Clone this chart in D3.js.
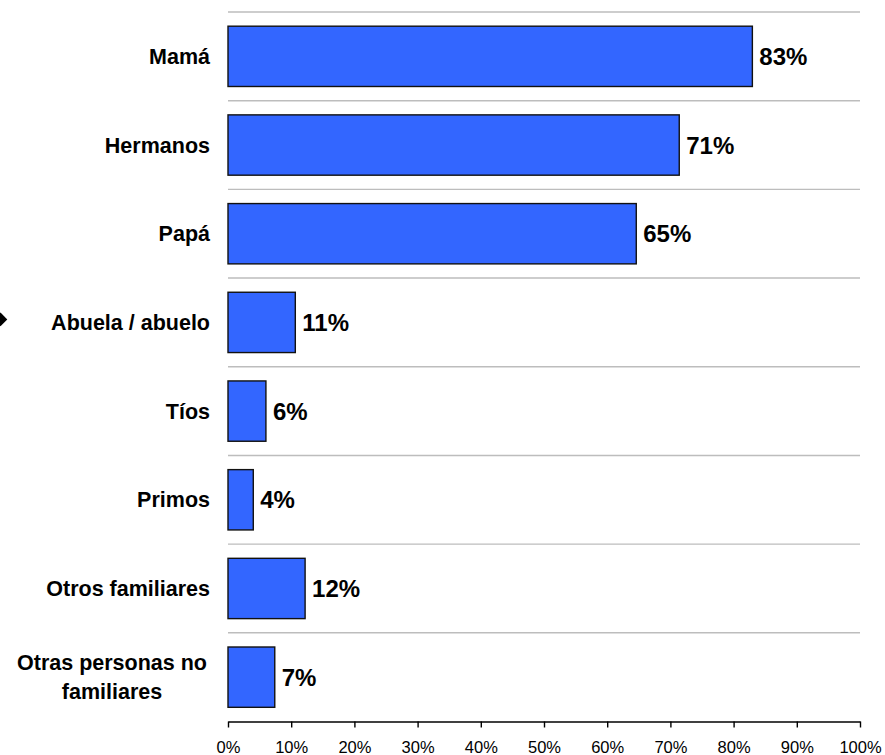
<!DOCTYPE html>
<html>
<head>
<meta charset="utf-8">
<script src="https://cdn.jsdelivr.net/npm/d3@7/dist/d3.min.js"></script>
<style>
  html, body { margin: 0; padding: 0; background: #fff; }
  svg { display: block; font-family: "Liberation Sans", Arial, sans-serif; }
</style>
</head>
<body>
<svg id="chart" width="885" height="755"></svg>
<script>
const categories = ["Mamá", "Hermanos", "Papá", "Abuela / abuelo", "Tíos", "Primos", "Otros familiares", "Otras personas no familiares"];
const categoryLines = [["Mamá"], ["Hermanos"], ["Papá"], ["Abuela / abuelo"], ["Tíos"], ["Primos"], ["Otros familiares"], ["Otras personas no", "familiares"]];
const values = [82.97, 71.4, 64.6, 10.65, 6.0, 4.0, 12.2, 7.4];
const tickValues = [0, 10, 20, 30, 40, 50, 60, 70, 80, 90, 100];

const svg = d3.select("#chart");
const plotLeft = 228, plotRight = 860, plotTop = 12, plotBottom = 721.5;

const x = d3.scaleLinear().domain([0, 100]).range([plotLeft, plotRight]);
const y = d3.scaleBand().domain(categories).range([plotTop, plotBottom])
  .paddingInner(0.32).paddingOuter(0.16);
const step = y.step();

// gridlines (band boundaries)
const gridYs = categories.map(c => y(c) - step * 0.16);
svg.append("g").selectAll("line").data(gridYs).join("line")
  .attr("x1", plotLeft).attr("x2", plotRight)
  .attr("y1", d => d).attr("y2", d => d)
  .attr("stroke", "#bdbdbd").attr("stroke-width", 1.4);

// bars
svg.append("g").selectAll("rect").data(categories).join("rect")
  .attr("x", x(0))
  .attr("y", c => y(c))
  .attr("width", (c, i) => x(values[i]) - x(0))
  .attr("height", y.bandwidth())
  .attr("fill", "#3366ff")
  .attr("stroke", "#111")
  .attr("stroke-width", 1.4);

// value labels
const fmt = d3.format(".0f");
svg.append("g").selectAll("text").data(categories).join("text")
  .attr("x", (c, i) => x(values[i]) + 7)
  .attr("y", c => y(c) + y.bandwidth() / 2 + 8.5)
  .attr("font-size", 24)
  .attr("font-weight", "bold")
  .attr("fill", "#000")
  .text((c, i) => fmt(values[i]) + "%");

// category labels
const catG = svg.append("g");
categories.forEach((c, i) => {
  const lines = categoryLines[i];
  const cy = y(c) + y.bandwidth() / 2;
  const lh = 29;
  if (lines.length === 1) {
    catG.append("text")
      .attr("x", 210).attr("y", cy + 7.5)
      .attr("text-anchor", "end")
      .attr("font-size", 21.5).attr("font-weight", "bold")
      .text(lines[0]);
  } else {
    const t = catG.append("text")
      .attr("font-size", 21.5).attr("font-weight", "bold")
      .attr("text-anchor", "middle");
    lines.forEach((ln, j) => {
      t.append("tspan").attr("x", 112)
        .attr("y", cy + 7.5 - lh / 2 + j * lh)
        .text(ln);
    });
  }
});

// x axis
const axis = d3.axisBottom(x).tickValues(tickValues).tickSize(6).tickSizeOuter(0)
  .tickFormat(d => d + "%");
const ax = svg.append("g").attr("transform", `translate(0,${plotBottom})`).call(axis);
ax.select(".domain").attr("stroke", "#000").attr("stroke-width", 1.4);
ax.selectAll(".tick line").attr("stroke", "#000").attr("stroke-width", 1.4);
ax.selectAll(".tick text")
  .attr("font-size", 16.5)
  .attr("font-family", "\"Liberation Sans\", Arial, sans-serif")
  .attr("fill", "#000")
  .attr("dy", 0).attr("y", 31.5);

// diamond marker at left edge
const markerCat = categories[3];
svg.append("path")
  .attr("d", d3.symbol(d3.symbolSquare, 92)())
  .attr("transform", `translate(0.5,${y(markerCat) + y.bandwidth() / 2 - 3}) rotate(45)`)
  .attr("fill", "#000");
</script>
</body>
</html>
